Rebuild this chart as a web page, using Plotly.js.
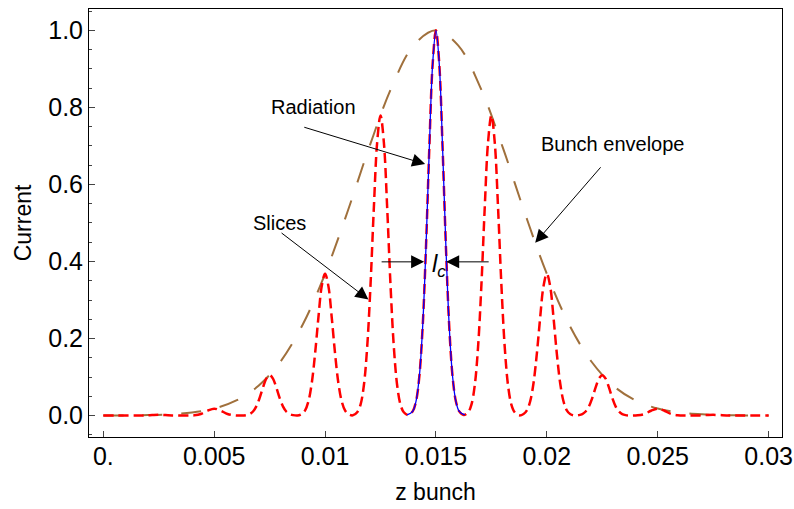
<!DOCTYPE html>
<html>
<head>
<meta charset="utf-8">
<script src="https://cdn.plot.ly/plotly-3.0.1.min.js"></script>
<style>html,body{margin:0;padding:0;background:#fff;}#chart{width:794px;height:509px;}</style>
</head>
<body>
<div id="chart"></div>
<script>
// Bunch envelope (brown long dashes)
const envX = [0,0.001,0.002,0.003,0.004,0.005,0.006,0.007,0.008,0.009,0.010,0.011,0.012,0.013,0.014,0.015,
  0.016,0.017,0.018,0.019,0.020,0.021,0.022,0.023,0.024,0.025,0.026,0.027,0.028,0.029,0.030];
const envY = [0.0001,0.0004,0.0012,0.0032,0.0079,0.0183,0.0392,0.0773,0.141,0.237,0.368,0.527,0.698,0.852,0.961,1.0,
  0.961,0.852,0.698,0.527,0.368,0.237,0.141,0.0773,0.0392,0.0183,0.0079,0.0032,0.0012,0.0004,0.0001];

// Slices (red short dashes)
const sliceX = [0,
  0.0019,0.0022,0.0025,0.0028,0.0031, 0.00375,
  0.0041,0.0044,0.0047,0.005,0.0053,0.0056,0.0059, 0.00625,
  0.00645,0.0066,0.00675,0.0069,0.00705,0.0072,0.00735,0.0075,0.00765,0.0078,0.00795,0.0081,0.00825,0.0084,0.00855, 0.00875,
  0.00895,0.0091,0.00925,0.0094,0.00955,0.0097,0.00985,0.01,0.01015,0.0103,0.01045,0.0106,0.01075,0.0109,0.01105, 0.01125,
  0.01145,0.0116,0.01175,0.0119,0.01205,0.0122,0.01235,0.0125,0.01265,0.0128,0.01295,0.0131,0.01325,0.0134,0.01355, 0.01375,
  0.01395,0.0141,0.01425,0.0144,0.01455,0.0147,0.01485,0.015,0.01515,0.0153,0.01545,0.0156,0.01575,0.0159,0.01605, 0.01625,
  0.01645,0.0166,0.01675,0.0169,0.01705,0.0172,0.01735,0.0175,0.01765,0.0178,0.01795,0.0181,0.01825,0.0184,0.01855, 0.01875,
  0.01895,0.0191,0.01925,0.0194,0.01955,0.0197,0.01985,0.02,0.02015,0.0203,0.02045,0.0206,0.02075,0.0209,0.02105, 0.02125,
  0.02145,0.0216,0.02175,0.0219,0.02205,0.0222,0.02235,0.0225,0.02265,0.0228,0.02295,0.0231,0.02325,0.0234,0.02355, 0.02375,
  0.0241,0.0244,0.0247,0.025,0.0253,0.0256,0.0259, 0.02625,
  0.0269,0.0272,0.0275,0.0278,0.0281, 0.03];
const sliceY = [0,
  0.0005,0.0013,0.0019,0.0013,0.0005, 0,
  0.0007,0.0041,0.0125,0.018,0.0125,0.0041,0.0007, 0,
  0.0012,0.0039,0.0106,0.024,0.046,0.073,0.096,0.105,0.096,0.073,0.046,0.024,0.0106,0.0039,0.0012, 0,
  0.004,0.0135,0.0372,0.0846,0.161,0.255,0.336,0.368,0.336,0.255,0.161,0.0846,0.0372,0.0135,0.004, 0.0006,
  0.0086,0.0286,0.0787,0.179,0.340,0.540,0.710,0.779,0.710,0.540,0.340,0.179,0.0787,0.0286,0.0086, 0.0015,
  0.011,0.0367,0.101,0.23,0.437,0.693,0.912,1.0,0.912,0.693,0.437,0.23,0.101,0.0367,0.011, 0.0015,
  0.0086,0.0286,0.0787,0.179,0.340,0.540,0.710,0.779,0.710,0.540,0.340,0.179,0.0787,0.0286,0.0086, 0.0006,
  0.004,0.0135,0.0372,0.0846,0.161,0.255,0.336,0.368,0.336,0.255,0.161,0.0846,0.0372,0.0135,0.004, 0,
  0.0012,0.0039,0.0106,0.024,0.046,0.073,0.096,0.105,0.096,0.073,0.046,0.024,0.0106,0.0039,0.0012, 0,
  0.0007,0.0041,0.0125,0.018,0.0125,0.0041,0.0007, 0,
  0.0005,0.0013,0.0019,0.0013,0.0005, 0];

// Radiation (blue solid, central slice)
const radX = [0.0137,0.01395,0.0141,0.01425,0.0144,0.01455,0.0147,0.01485,0.015,0.01515,0.0153,0.01545,0.0156,0.01575,0.0159,0.01605,0.0163];
const radY = [0.002,0.011,0.0367,0.101,0.23,0.437,0.693,0.912,1.0,0.912,0.693,0.437,0.23,0.101,0.0367,0.011,0.002];

// Axis ticks
const xTickVals = [0,0.005,0.01,0.015,0.02,0.025,0.03];
const xTickText = ["0.","0.005","0.01","0.015","0.02","0.025","0.03"];
const yTickVals = [0,0.2,0.4,0.6,0.8,1.0];
const yTickText = ["0.0","0.2","0.4","0.6","0.8","1.0"];

const FONT = "Liberation Sans, Arial, sans-serif";

const traces = [
  {x: envX, y: envY, type: 'scatter', mode: 'lines',
   line: {color: 'rgb(160,112,60)', width: 2, dash: '20px,19px', shape: 'spline', smoothing: 1},
   hoverinfo: 'skip'},
  {x: sliceX, y: sliceY, type: 'scatter', mode: 'lines',
   line: {color: '#ff0000', width: 2.5, dash: '10px,5px', shape: 'spline', smoothing: 1},
   hoverinfo: 'skip'},
  {x: radX, y: radY, type: 'scatter', mode: 'lines',
   line: {color: '#0000ff', width: 1.3, shape: 'spline', smoothing: 1},
   hoverinfo: 'skip'}
];

function arrow(tipX, tipY, tailX, tailY) {
  return {x: tipX, y: tipY, ax: tailX, ay: tailY, xref: 'x', yref: 'y', axref: 'x', ayref: 'y',
    text: '', showarrow: true, arrowhead: 2, arrowsize: 2.6, arrowwidth: 1, arrowcolor: '#000', standoff: 0};
}
function label(txt, x, y, size) {
  return {x: x, y: y, xref: 'x', yref: 'y', text: txt, showarrow: false,
    font: {family: FONT, size: size, color: '#000'}, xanchor: 'center', yanchor: 'middle'};
}

const layout = {
  width: 794, height: 509,
  margin: {l: 89, r: 12, t: 9, b: 72},
  paper_bgcolor: '#fff', plot_bgcolor: '#fff',
  showlegend: false,
  font: {family: FONT, color: '#000'},
  xaxis: {
    range: [-0.000645, 0.030604], showgrid: false, zeroline: false,
    showline: true, mirror: true, linecolor: '#000', linewidth: 1,
    ticks: 'inside', ticklen: 6, tickcolor: '#444', tickwidth: 1,
    tickvals: xTickVals, ticktext: xTickText,
    ticklabelstandoff: -3,
    tickfont: {family: FONT, size: 25, color: '#000'},
    title: {text: 'z bunch', font: {family: FONT, size: 23, color: '#000'}, standoff: 14}
  },
  yaxis: {
    range: [-0.0556, 1.0553], showgrid: false, zeroline: false,
    showline: true, mirror: true, linecolor: '#000', linewidth: 1,
    ticks: 'inside', ticklen: 6, tickcolor: '#444', tickwidth: 1,
    tickvals: yTickVals, ticktext: yTickText,
    minor: {dtick: 0.05, ticks: 'inside', ticklen: 3, tickcolor: '#444', showgrid: false},
    tickfont: {family: FONT, size: 25, color: '#000'},
    title: {text: 'Current', font: {family: FONT, size: 23, color: '#000'}, standoff: 10}
  },
  annotations: [
    arrow(0.014513, 0.6527, 0.008995, 0.7496),
    arrow(0.019475, 0.4483, 0.022484, 0.6483),
    arrow(0.011955, 0.3013, 0.007971, 0.4769),
    arrow(0.014467, 0.399, 0.012482, 0.399),
    arrow(0.015460, 0.399, 0.017445, 0.399),
    label('Radiation', 0.009474, 0.802, 20),
    label('Bunch envelope', 0.02295, 0.7055, 20),
    label('Slices', 0.007958, 0.5003, 20),
    label('<i>l<sub>c</sub></i>', 0.01512, 0.39, 24)
  ]
};

Plotly.newPlot('chart', traces, layout, {staticPlot: true, displayModeBar: false});
</script>
</body>
</html>
